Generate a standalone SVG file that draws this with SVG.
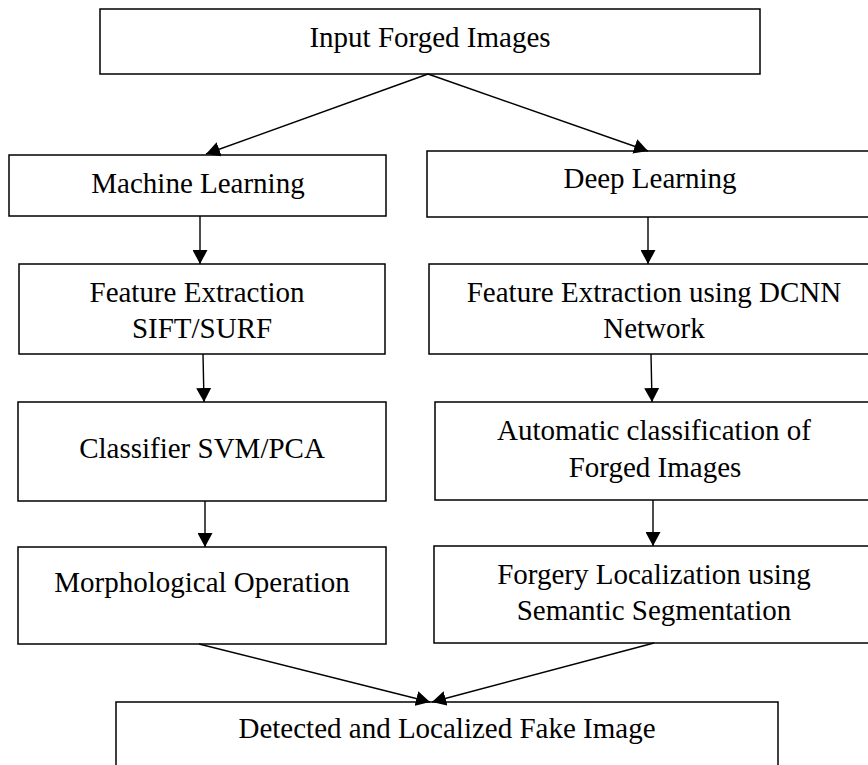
<svg xmlns="http://www.w3.org/2000/svg" width="868" height="765" viewBox="0 0 868 765">
  <style>
    .box { fill: #ffffff; stroke: #000000; stroke-width: 1.5; }
    .lbl { font-family: "Liberation Serif", "Times New Roman", serif; font-size: 29px; fill: #000000; text-anchor: middle; }
    .link { stroke: #000000; stroke-width: 1.4; fill: none; marker-end: url(#head); }
  </style>
  <defs>
    <marker id="head" markerUnits="userSpaceOnUse" markerWidth="14" markerHeight="15" refX="14" refY="7.5" orient="auto">
      <path d="M0,0 L14,7.5 L0,15 Z" fill="#000000"/>
    </marker>
  </defs>
  <rect width="868" height="765" fill="#ffffff"/>

  <g id="input">
    <rect class="box" x="100" y="9" width="660" height="65"/>
    <text class="lbl" x="430" y="47">Input Forged Images</text>
  </g>

  <g id="ml">
    <rect class="box" x="9" y="155" width="377" height="61"/>
    <text class="lbl" x="198" y="193">Machine Learning</text>
  </g>

  <g id="dl">
    <rect class="box" x="427" y="151" width="460" height="66"/>
    <text class="lbl" x="650" y="188">Deep Learning</text>
  </g>

  <g id="fe-ml">
    <rect class="box" x="19" y="264" width="366" height="90"/>
    <text class="lbl" x="197" y="302">Feature Extraction</text>
    <text class="lbl" x="202" y="338">SIFT/SURF</text>
  </g>

  <g id="fe-dl">
    <rect class="box" x="429" y="264" width="460" height="90"/>
    <text class="lbl" x="654" y="302">Feature Extraction using DCNN</text>
    <text class="lbl" x="654" y="338">Network</text>
  </g>

  <g id="classifier">
    <rect class="box" x="18" y="402" width="368" height="99"/>
    <text class="lbl" x="202" y="458">Classifier SVM/PCA</text>
  </g>

  <g id="auto-class">
    <rect class="box" x="435" y="402" width="460" height="98"/>
    <text class="lbl" x="654" y="440">Automatic classification of</text>
    <text class="lbl" x="655" y="477">Forged Images</text>
  </g>

  <g id="morph">
    <rect class="box" x="18" y="547" width="368" height="97"/>
    <text class="lbl" x="202" y="592">Morphological Operation</text>
  </g>

  <g id="localize">
    <rect class="box" x="434" y="546" width="460" height="97"/>
    <text class="lbl" x="654" y="584">Forgery Localization using</text>
    <text class="lbl" x="654" y="620">Semantic Segmentation</text>
  </g>

  <g id="output">
    <rect class="box" x="116" y="702" width="662" height="80"/>
    <text class="lbl" x="447" y="738">Detected and Localized Fake Image</text>
  </g>

  <g id="connectors">
    <line class="link" x1="428" y1="74" x2="206" y2="154"/>
    <line class="link" x1="428" y1="74" x2="648" y2="151"/>
    <line class="link" x1="200" y1="216" x2="200" y2="264"/>
    <line class="link" x1="648" y1="217" x2="648" y2="264"/>
    <line class="link" x1="203" y1="354" x2="204" y2="402"/>
    <line class="link" x1="651" y1="354" x2="652" y2="402"/>
    <line class="link" x1="205" y1="501" x2="205" y2="547"/>
    <line class="link" x1="653" y1="500" x2="653" y2="546"/>
    <line class="link" x1="199" y1="644" x2="430" y2="702"/>
    <line class="link" x1="654" y1="643" x2="432" y2="702"/>
  </g>
</svg>
